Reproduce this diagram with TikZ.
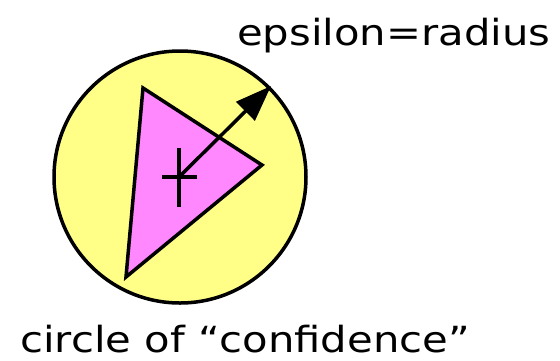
\documentclass[tikz,border=0pt]{standalone}
\usepackage{fontspec}
\setmainfont{DejaVu Sans}
\newfontfamily\widefont[FakeStretch=1.16]{DejaVu Sans}
\usetikzlibrary{arrows.meta}
\definecolor{fillyellow}{RGB}{255,255,136}
\definecolor{fillpink}{RGB}{255,136,255}
\begin{document}
\begin{tikzpicture}[x=1pt,y=-1pt,
  shapeline/.style={draw=black,line width=3.5pt,line join=miter},
  lbl/.style={inner sep=0pt,anchor=base west,font=\widefont\fontsize{36}{42}\selectfont}]
\useasboundingbox (0,0) rectangle (560,360);
\draw[shapeline,fill=fillyellow] (180,177) circle[radius=126];
\coordinate (ta) at (143,88);
\coordinate (tb) at (262,165);
\coordinate (tc) at (126,277);
\draw[shapeline,fill=fillpink] (ta) -- (tb) -- (tc) -- cycle;
\coordinate (ctr) at (179,177);
\coordinate (tip) at (271,86);
\draw[line width=3.5pt] (162,177) -- (197,177);
\draw[line width=3.5pt] (179,148) -- (179,207);
\draw[line width=3.5pt,-{Triangle[length=36pt,width=26pt]}] (ctr) -- (tip);
\node[lbl] (eps) at (237,45) {epsilon=radius};
\node[lbl] (conf) at (20,352) {circle of “confidence”};
\end{tikzpicture}
\end{document}
